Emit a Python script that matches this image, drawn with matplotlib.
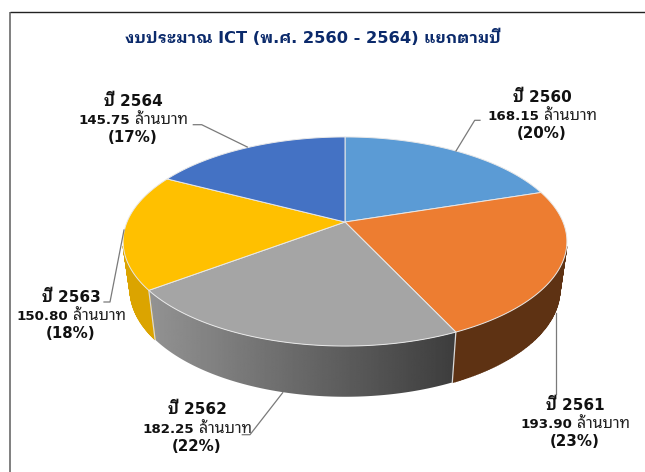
import numpy as np
import matplotlib
matplotlib.use('Agg')
import matplotlib.pyplot as plt
from matplotlib.patches import Polygon

# ---- data ----
years = ['ปี 2560', 'ปี 2561', 'ปี 2562', 'ปี 2563', 'ปี 2564']
budget = [168.15, 193.90, 182.25, 150.80, 145.75]
amount_labels = ['168.15', '193.90', '182.25', '150.80', '145.75']
percent_labels = ['(20%)', '(23%)', '(22%)', '(18%)', '(17%)']
unit = 'ล้านบาท'
title_text = 'งบประมาณ ICT (พ.ศ. 2560 - 2564) แยกตามปี'

# ---- style ----
top_colors = ['#5B9BD5', '#ED7D31', '#A5A5A5', '#FFC000', '#4472C4']
wall_colors = ['#2F5F8C', '#5E3213', None, '#DBA400', '#2A4A85']
FONT = ['DejaVu Sans', 'IBM Plex Sans Thai Looped', 'Loma', 'Noto Sans Thai']
THAI = ['Noto Sans Thai Looped', 'Noto Sans Thai', 'Loma', 'DejaVu Sans']

fig = plt.figure(figsize=(6.45, 4.72), dpi=100, facecolor='white')
ax = fig.add_axes([0, 0, 1, 1])
ax.axis('off')

# frame
ax.plot([10, 10], [12, 472], color='#6a6a6a', lw=1.2, solid_capstyle='butt')
ax.plot([10, 645], [12, 12], color='#222222', lw=1.0, solid_capstyle='butt')

# ---- perspective pie projection ----
CX, CY = 345.0, 222.0
K = 0.1866


def top_xy(t):
    d = 1 + K * np.cos(t)
    return CX + 218 * np.sin(t) / d, CY - 100.9 * np.cos(t) / d


def low_xy(t):
    d = 1 + K * np.cos(t)
    return CX + 211 * np.sin(t) / d, 269.4 - 103.6 * np.cos(t) / d


edges = np.concatenate([[0], np.cumsum(budget)]) / np.sum(budget) * 2 * np.pi

# side walls (only the front of the pie is visible)
for i, col in enumerate(wall_colors):
    ts = np.linspace(edges[i], edges[i + 1], 120)
    ts = ts[np.cos(ts) <= -0.22]
    if len(ts) < 2:
        continue
    xt, yt = top_xy(ts)
    xl, yl = low_xy(ts)
    if col is None:
        poly = Polygon(np.c_[np.r_[xt, xl[::-1]], np.r_[yt, yl[::-1]]], closed=True,
                       transform=ax.transData, facecolor='none', edgecolor='none')
        ax.add_patch(poly)
        grad = np.linspace(0.58, 0.235, 256)[None, :]
        im = ax.imshow(grad, cmap='gray', vmin=0, vmax=1, aspect='auto',
                       extent=(145, 460, 400, 280), zorder=2,
                       interpolation='bilinear')
        im.set_clip_path(poly)
    else:
        for j in range(len(ts) - 1):
            ax.fill([xt[j], xt[j + 1], xl[j + 1], xl[j]],
                    [yt[j], yt[j + 1], yl[j + 1], yl[j]],
                    facecolor=col, edgecolor=col, lw=1.0, zorder=2)

ax.set_xlim(0, 645)
ax.set_ylim(472, 0)

# wall separators where visible
for e in edges[2:4]:
    x0, y0 = top_xy(e)
    x1, y1 = low_xy(e)
    ax.plot([x0, x1], [y0, y1], color='#d9d9d9', lw=0.9, zorder=3)

# top surface
for i, col in enumerate(top_colors):
    ts = np.linspace(edges[i], edges[i + 1], 200)
    xs, ys = top_xy(ts)
    ax.fill(np.r_[CX, xs], np.r_[CY, ys], facecolor=col, edgecolor='#e8e8e8',
            lw=0.7, zorder=4, joinstyle='round')

# leader lines
leaders = [
    ([456, 474.7, 480], [151, 120.3, 120.3]),
    ([555.7, 555.7], [313, 394]),
    ([282.7, 250, 242.3], [392.7, 434.7, 434.7]),
    ([124, 110, 104], [230, 302, 302]),
    ([193.3, 201.7, 247.3], [124.7, 124.7, 147]),
]
for lx, ly in leaders:
    ax.plot(lx, ly, color='#7a7a7a', lw=0.9, zorder=5)

renderer = fig.canvas.get_renderer()


def centered_runs(xc, yc, runs, gap=5.0):
    """Lay out runs (string, weight, size, family, colour) centred at xc, yc."""
    items = []
    total = -gap
    for s, w, sz, fam, c in runs:
        t = ax.text(0, yc, s, fontweight=w, fontsize=sz, family=fam, color=c,
                    ha='left', va='baseline', zorder=6)
        wd = t.get_window_extent(renderer).width
        items.append((t, wd))
        total += wd + gap
    x = xc - total / 2
    for t, wd in items:
        t.set_x(x)
        x += wd + gap


# data labels
label_pos = [(542, 96), (575, 404), (197, 409), (71, 296), (133, 100)]
DARK = '#111111'
for i, (xc, yc) in enumerate(label_pos):
    centered_runs(xc, yc + 5.5, [(years[i], 'bold', 11, FONT, DARK)])
    centered_runs(xc, yc + 24, [(amount_labels[i], 'bold', 9.6, FONT, DARK),
                                (unit, 'normal', 11.5, THAI, '#222222')])
    centered_runs(xc, yc + 42, [(percent_labels[i], 'bold', 10.8, FONT, DARK)])

# title
centered_runs(313, 43, [(title_text, 'bold', 11.7, FONT, '#0B2A6B')])

fig.savefig('out.png', dpi=100)
